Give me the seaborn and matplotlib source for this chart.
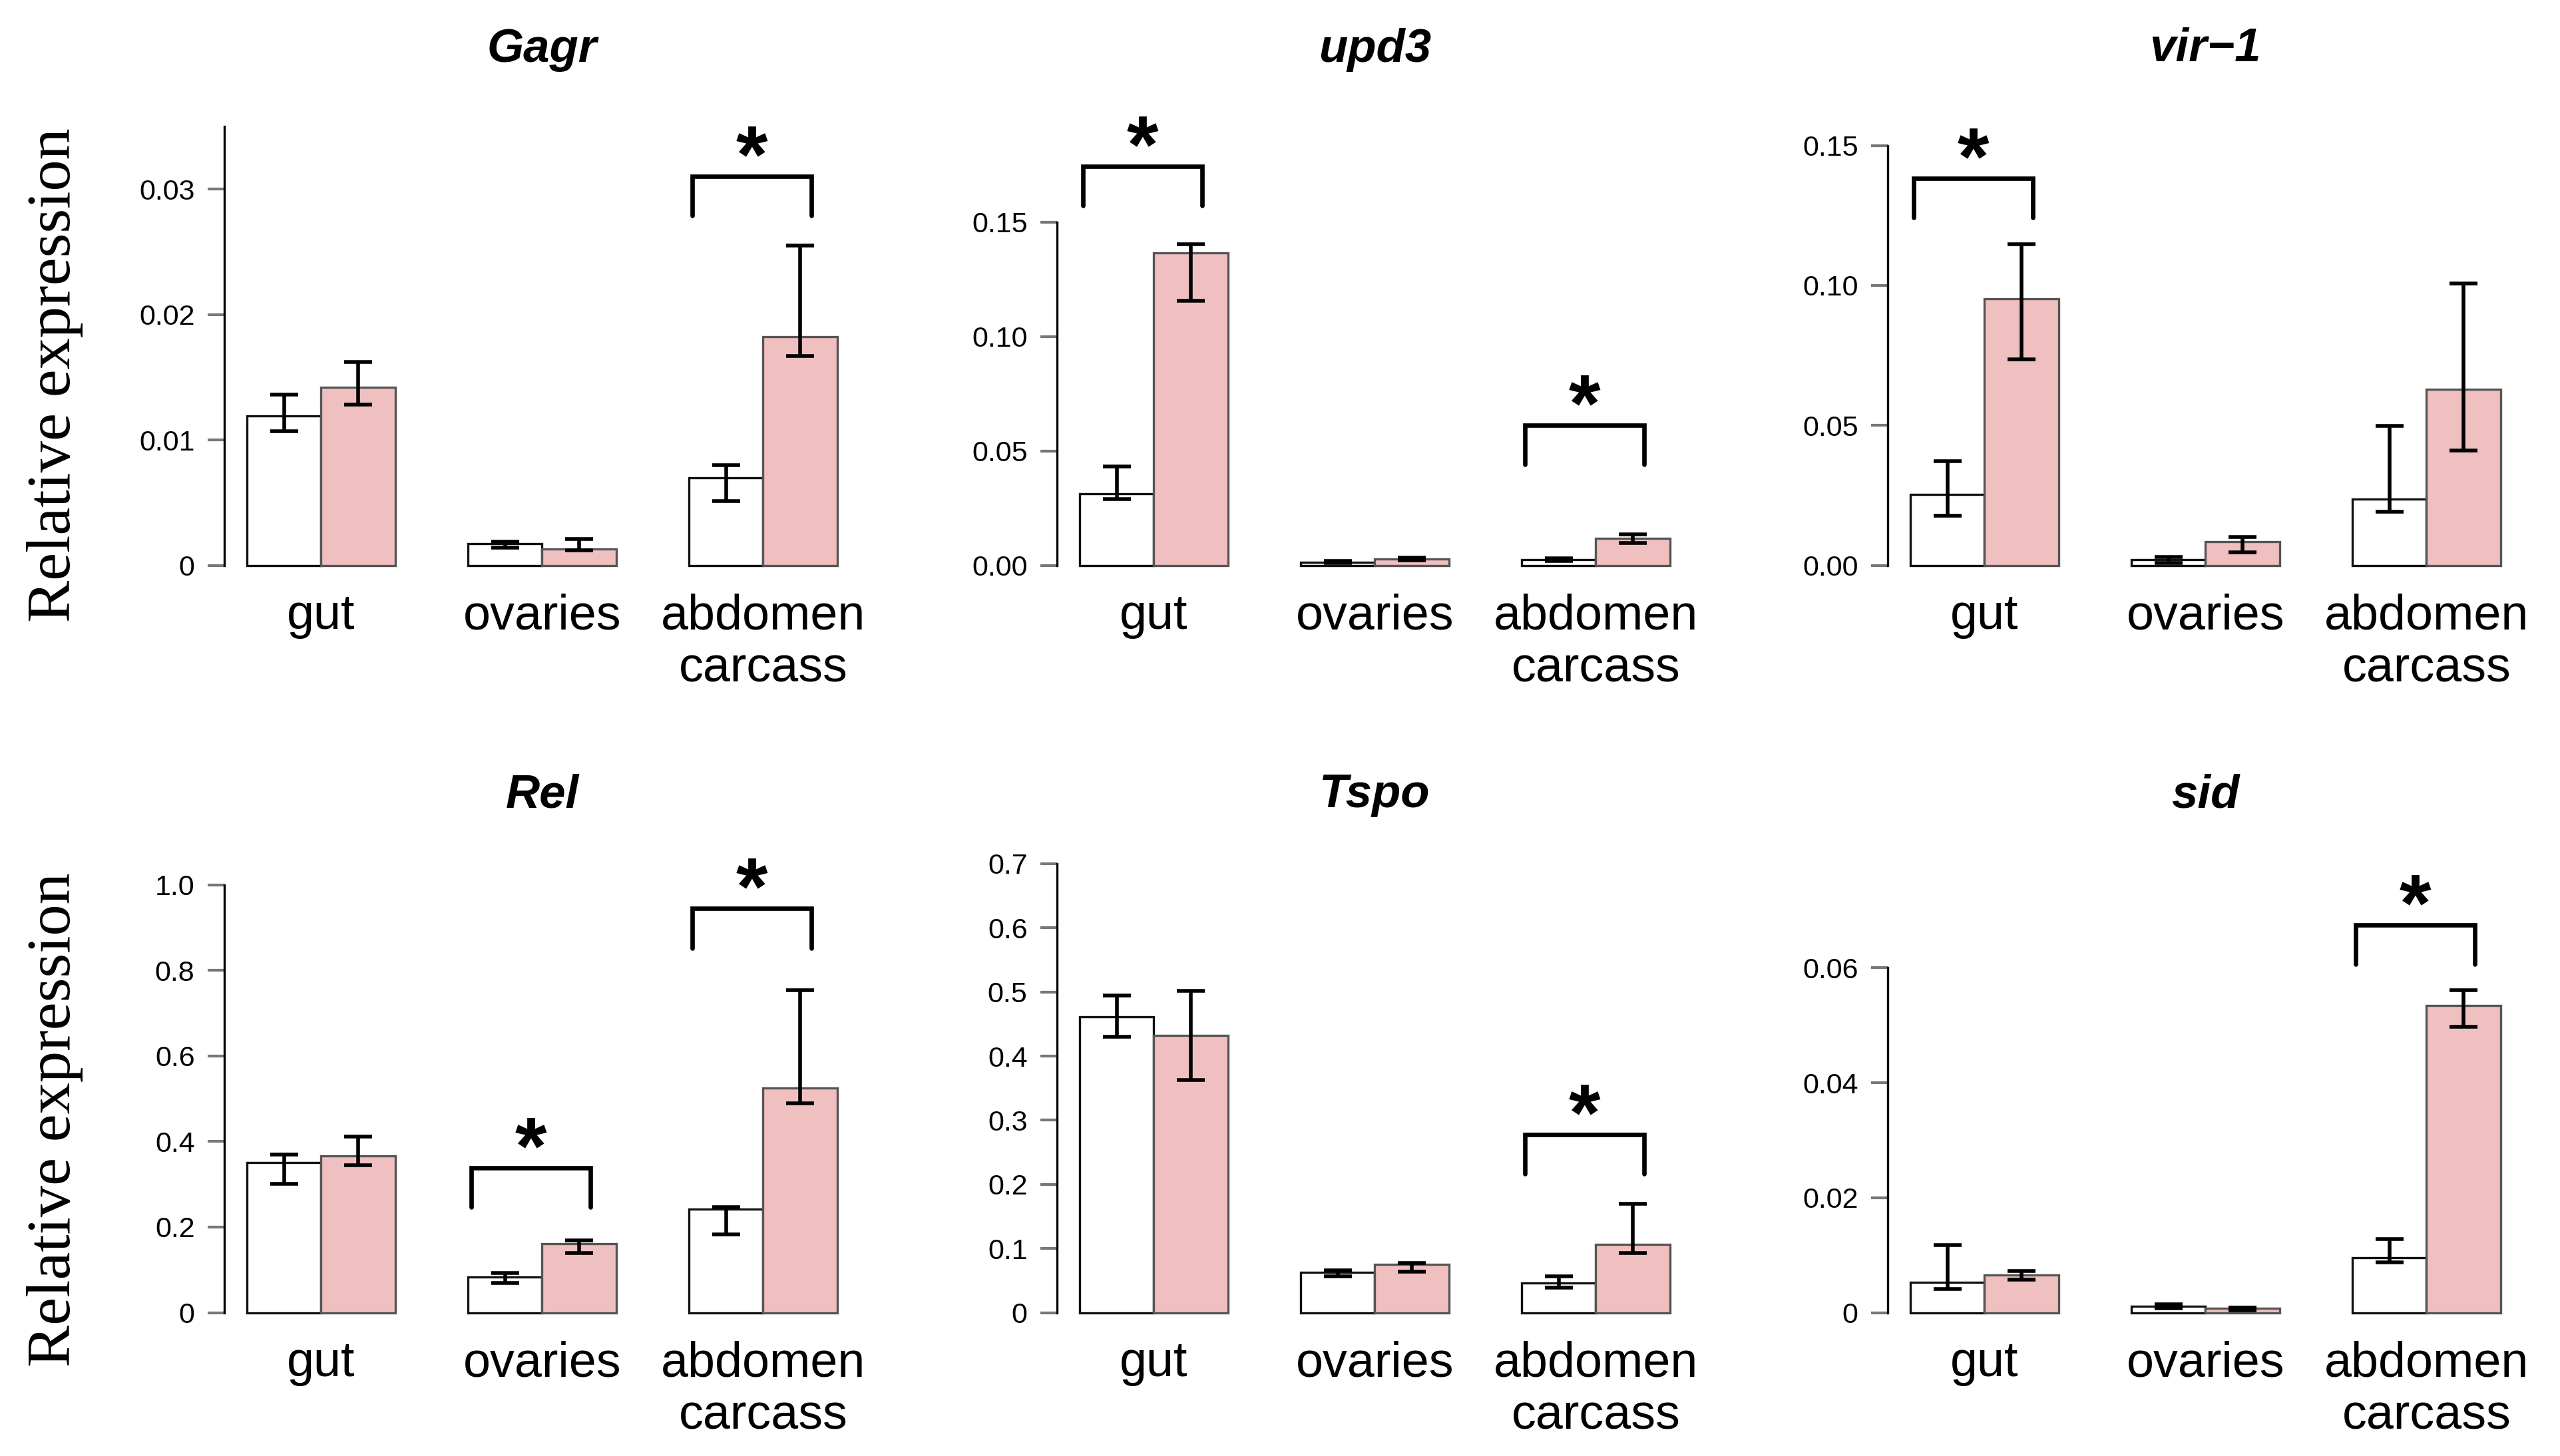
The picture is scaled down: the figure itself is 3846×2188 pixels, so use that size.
"""
Six-panel bar chart of relative expression per tissue (control vs. treated),
with asymmetric error bars and significance brackets.
"""

import pandas as pd
import matplotlib
matplotlib.use("Agg")
import matplotlib.pyplot as plt
import matplotlib.transforms as mtransforms
import seaborn as sns

# ---- data -------------------------------------------------------------
tissues = ["gut", "ovaries", "abdomen\ncarcass"]
groups = ["control", "treated"]

gagr_ctrl = [0.0119, 0.0017, 0.0070]
gagr_ctrl_lo = [0.0107, 0.0014, 0.0051]
gagr_ctrl_hi = [0.0136, 0.0019, 0.0080]
gagr_trt = [0.0142, 0.0013, 0.0182]
gagr_trt_lo = [0.0128, 0.0012, 0.0167]
gagr_trt_hi = [0.0162, 0.0021, 0.0255]
gagr_sig = [(2, 0.0310)]

upd3_ctrl = [0.0312, 0.0014, 0.0025]
upd3_ctrl_lo = [0.0289, 0.0010, 0.0018]
upd3_ctrl_hi = [0.0431, 0.0019, 0.0031]
upd3_trt = [0.1366, 0.0029, 0.0118]
upd3_trt_lo = [0.1156, 0.0022, 0.0097]
upd3_trt_hi = [0.1403, 0.0034, 0.0134]
upd3_sig = [(0, 0.1744), (2, 0.0613)]

vir1_ctrl = [0.0253, 0.0020, 0.0236]
vir1_ctrl_lo = [0.0176, 0.0008, 0.0191]
vir1_ctrl_hi = [0.0373, 0.0029, 0.0498]
vir1_trt = [0.0953, 0.0084, 0.0628]
vir1_trt_lo = [0.0737, 0.0046, 0.0410]
vir1_trt_hi = [0.1147, 0.0101, 0.1007]
vir1_sig = [(0, 0.1382)]

rel_ctrl = [0.351, 0.083, 0.242]
rel_ctrl_lo = [0.301, 0.069, 0.183]
rel_ctrl_hi = [0.369, 0.093, 0.246]
rel_trt = [0.366, 0.161, 0.526]
rel_trt_lo = [0.345, 0.139, 0.490]
rel_trt_hi = [0.412, 0.169, 0.754]
rel_sig = [(1, 0.339), (2, 0.945)]

tspo_ctrl = [0.461, 0.0626, 0.0459]
tspo_ctrl_lo = [0.430, 0.0561, 0.0386]
tspo_ctrl_hi = [0.495, 0.0655, 0.0568]
tspo_trt = [0.432, 0.0750, 0.1063]
tspo_trt_lo = [0.363, 0.0641, 0.0932]
tspo_trt_hi = [0.502, 0.0772, 0.1697]
tspo_sig = [(2, 0.2775)]

sid_ctrl = [0.0053, 0.0011, 0.0096]
sid_ctrl_lo = [0.0041, 0.0007, 0.0088]
sid_ctrl_hi = [0.0118, 0.0015, 0.0128]
sid_trt = [0.0065, 0.0007, 0.0535]
sid_trt_lo = [0.0057, 0.0004, 0.0497]
sid_trt_hi = [0.0072, 0.0009, 0.0561]
sid_sig = [(2, 0.0675)]

ticks_gagr = [0, 0.01, 0.02, 0.03]
labels_gagr = ["0", "0.01", "0.02", "0.03"]
ticks_upd3 = [0, 0.05, 0.10, 0.15]
labels_upd3 = ["0.00", "0.05", "0.10", "0.15"]
ticks_rel = [0, 0.2, 0.4, 0.6, 0.8, 1.0]
labels_rel = ["0", "0.2", "0.4", "0.6", "0.8", "1.0"]
ticks_tspo = [0, 0.1, 0.2, 0.3, 0.4, 0.5, 0.6, 0.7]
labels_tspo = ["0", "0.1", "0.2", "0.3", "0.4", "0.5", "0.6", "0.7"]
ticks_sid = [0, 0.02, 0.04, 0.06]
labels_sid = ["0", "0.02", "0.04", "0.06"]

# ---- style / layout ---------------------------------------------------
sns.set_style("ticks")
plt.rcParams["font.family"] = ["Liberation Sans", "DejaVu Sans"]
plt.rcParams["text.color"] = "black"

PINK = "#f0c0c0"
BAR_WIDTH = 0.672
BR_LEFT, BR_RIGHT = -0.32, 0.22
W_PX, H_PX = 3846, 2188

col_left_px = [337, 1588, 2836]
row_zero_px = [849.5, 1972.5]
row_top_px = [130, 1250]
row_title_px = [74.5, 1195]
row_ylabel_px = [564, 1683]
XLIM = (-0.438, 2.5)
AX_W_PX = (XLIM[1] - XLIM[0]) * 332


def draw_panel(fig, row, col, name, ctrl, ctrl_lo, ctrl_hi, trt, trt_lo, trt_hi,
               sig, ticks, ticklabels, ytop, spine_top):
    left = col_left_px[col] / W_PX
    bottom = 1 - row_zero_px[row] / H_PX
    height = (row_zero_px[row] - row_top_px[row]) / H_PX
    ax = fig.add_axes([left, bottom, AX_W_PX / W_PX, height])

    df = pd.DataFrame({
        "tissue": tissues * 2,
        "group": [groups[0]] * 3 + [groups[1]] * 3,
        "value": list(ctrl) + list(trt),
    })
    sns.barplot(data=df, x="tissue", y="value", hue="group", order=tissues,
                hue_order=groups, palette={groups[0]: "white", groups[1]: PINK},
                width=BAR_WIDTH, errorbar=None, legend=False, saturation=1,
                linewidth=1.2, edgecolor="#111111", ax=ax)

    # asymmetric error bars placed on the drawn bars
    for cont, vals, lo, hi, ec in zip(ax.containers, [ctrl, trt], [ctrl_lo, trt_lo],
                                      [ctrl_hi, trt_hi], ["#111111", "#555555"]):
        xs = []
        for bar in cont:
            bar.set_clip_on(False)
            bar.set_edgecolor(ec)
            xs.append(bar.get_x() + bar.get_width() / 2)
        yerr = [[v - l for v, l in zip(vals, lo)], [h - v for v, h in zip(vals, hi)]]
        ax.errorbar(xs, vals, yerr=yerr, fmt="none", ecolor="black",
                    elinewidth=2.0, capsize=7.7, capthick=2.0, clip_on=False, zorder=5)

    # significance brackets
    leg = 0.082 * ytop
    for i, yb in sig:
        x0, x1 = i + BR_LEFT, i + BR_RIGHT
        ax.plot([x0, x0, x1, x1], [yb - leg, yb, yb, yb - leg], color="black",
                lw=2.4, clip_on=False, solid_joinstyle="miter")
        ax.annotate("*", xy=((x0 + x1) / 2, yb), xytext=(0, -3),
                    textcoords="offset points", ha="center", va="baseline",
                    fontsize=44, fontweight="bold", color="black",
                    annotation_clip=False)

    ax.set_xlim(*XLIM)
    ax.set_ylim(0, ytop)
    ax.set_yticks(ticks)
    ax.set_yticklabels(ticklabels)
    ax.set_xlabel("")
    ax.set_ylabel("")
    sns.despine(ax=ax, bottom=True)
    ax.spines["left"].set_bounds(0, spine_top)
    ax.spines["left"].set_linewidth(1.2)
    ax.spines["left"].set_color("black")
    ax.tick_params(axis="y", direction="out", length=9, width=1.5, color="#777777",
                   labelsize=15.5, pad=7, labelcolor="black")
    ax.tick_params(axis="x", length=0, labelsize=26.5, pad=15, labelcolor="black")

    trans = mtransforms.blended_transform_factory(ax.transData, fig.transFigure)
    ax.text(1, 1 - row_title_px[row] / H_PX, name, transform=trans, ha="center",
            va="center", fontsize=25.5, fontweight="bold", fontstyle="italic",
            color="black")
    return ax


def main():
    fig = plt.figure(figsize=(W_PX / 200, H_PX / 200), dpi=200)

    draw_panel(fig, 0, 0, "Gagr", gagr_ctrl, gagr_ctrl_lo, gagr_ctrl_hi,
               gagr_trt, gagr_trt_lo, gagr_trt_hi, gagr_sig,
               ticks_gagr, labels_gagr, 0.03817, 0.035)
    draw_panel(fig, 0, 1, "upd3", upd3_ctrl, upd3_ctrl_lo, upd3_ctrl_hi,
               upd3_trt, upd3_trt_lo, upd3_trt_hi, upd3_sig,
               ticks_upd3, labels_upd3, 0.2092, 0.15)
    draw_panel(fig, 0, 2, "vir\u22121", vir1_ctrl, vir1_ctrl_lo, vir1_ctrl_hi,
               vir1_trt, vir1_trt_lo, vir1_trt_hi, vir1_sig,
               ticks_upd3, labels_upd3, 0.1711, 0.15)
    draw_panel(fig, 1, 0, "Rel", rel_ctrl, rel_ctrl_lo, rel_ctrl_hi,
               rel_trt, rel_trt_lo, rel_trt_hi, rel_sig,
               ticks_rel, labels_rel, 1.1245, 1.0)
    draw_panel(fig, 1, 1, "Tspo", tspo_ctrl, tspo_ctrl_lo, tspo_ctrl_hi,
               tspo_trt, tspo_trt_lo, tspo_trt_hi, tspo_sig,
               ticks_tspo, labels_tspo, 0.7498, 0.7)
    draw_panel(fig, 1, 2, "sid", sid_ctrl, sid_ctrl_lo, sid_ctrl_hi,
               sid_trt, sid_trt_lo, sid_trt_hi, sid_sig,
               ticks_sid, labels_sid, 0.08368, 0.06)

    for ypx in row_ylabel_px:
        fig.text(83 / W_PX, 1 - ypx / H_PX, "Relative expression", rotation=90,
                 ha="center", va="center", fontsize=34, color="black",
                 family=["Liberation Serif", "DejaVu Serif"])

    fig.savefig("out.png", dpi=200)
    plt.close(fig)


if __name__ == "__main__":
    main()
